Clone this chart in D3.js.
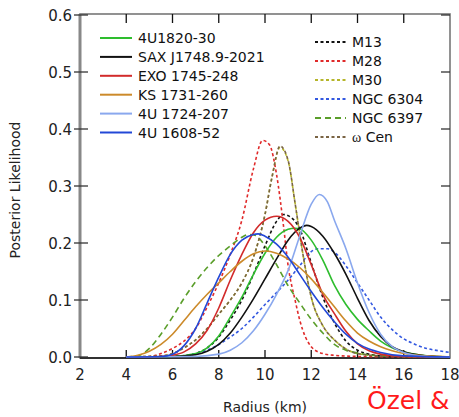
<!DOCTYPE html>
<html>
<head>
<meta charset="utf-8">
<script src="https://cdn.jsdelivr.net/npm/d3@7"></script>
<style>
  body { margin: 0; background: #fff; }
  svg { display: block; }
  text { font-family: "DejaVu Sans", sans-serif; }
</style>
</head>
<body>
<div id="chart"></div>
<script>
// radius (km), likelihood pairs
const r4U1820 = [[4,0],[6,0.001],[7,0.006],[7.5,0.016],[8,0.037],[8.5,0.07],[9,0.105],[9.5,0.145],[10,0.182],[10.5,0.21],[11,0.224],[11.3,0.226],[11.5,0.225],[12,0.205],[12.5,0.17],[13,0.126],[13.5,0.092],[14,0.066],[14.5,0.046],[15,0.028],[15.5,0.016],[16,0.009],[17,0.002],[18,0]];
const rSAX = [[4,0],[6,0.001],[7,0.004],[7.5,0.01],[8,0.022],[8.5,0.042],[9,0.07],[9.5,0.102],[10,0.137],[10.5,0.172],[11,0.205],[11.5,0.226],[11.8,0.231],[12,0.229],[12.5,0.212],[13,0.182],[13.5,0.145],[14,0.103],[14.5,0.064],[15,0.036],[15.5,0.018],[16,0.009],[17,0.002],[18,0]];
const rEXO = [[4,0],[5.5,0.001],[6,0.003],[6.5,0.009],[7,0.023],[7.5,0.047],[8,0.086],[8.5,0.135],[9,0.18],[9.5,0.218],[10,0.24],[10.5,0.247],[11,0.238],[11.5,0.21],[12,0.162],[12.5,0.11],[13,0.076],[13.5,0.045],[14,0.023],[14.5,0.011],[15,0.005],[16,0.001],[18,0]];
const rKS = [[4,0],[4.5,0.003],[5,0.01],[5.5,0.022],[6,0.04],[6.5,0.064],[7,0.088],[7.5,0.11],[8,0.13],[8.5,0.15],[9,0.168],[9.5,0.181],[10,0.186],[10.5,0.182],[11,0.172],[11.5,0.157],[12,0.137],[12.5,0.113],[13,0.088],[13.5,0.063],[14,0.042],[14.5,0.028],[15,0.018],[15.5,0.011],[16,0.006],[17,0.002],[18,0]];
const r4U1724 = [[4,0],[7,0.001],[8,0.005],[8.5,0.012],[9,0.025],[9.5,0.046],[10,0.075],[10.5,0.11],[11,0.152],[11.5,0.212],[12,0.268],[12.35,0.285],[12.7,0.272],[13,0.24],[13.5,0.19],[14,0.13],[14.5,0.078],[15,0.04],[15.5,0.018],[16,0.008],[17,0.001],[18,0]];
const r4U1608 = [[4,0],[5.5,0.001],[6,0.005],[6.5,0.02],[7,0.05],[7.5,0.095],[8,0.14],[8.5,0.18],[9,0.205],[9.5,0.215],[9.7,0.216],[10,0.212],[10.5,0.198],[11,0.175],[11.5,0.145],[12,0.115],[12.5,0.087],[13,0.062],[13.5,0.04],[14,0.024],[14.5,0.014],[15,0.008],[16,0.002],[18,0]];
const rM13 = [[4,0],[6.5,0.002],[7,0.006],[7.5,0.016],[8,0.035],[8.5,0.065],[9,0.1],[9.5,0.145],[10,0.195],[10.5,0.238],[10.8,0.25],[11,0.248],[11.5,0.225],[12,0.165],[12.5,0.105],[13,0.06],[13.5,0.028],[14,0.012],[14.5,0.005],[15,0.002],[18,0]];
const rM28 = [[4,0],[5,0.001],[5.5,0.006],[6,0.015],[6.5,0.028],[7,0.05],[7.5,0.088],[8,0.13],[8.5,0.18],[9,0.24],[9.5,0.33],[9.9,0.38],[10.2,0.372],[10.5,0.32],[10.8,0.23],[11,0.16],[11.3,0.1],[11.5,0.065],[12,0.018],[12.5,0.006],[13,0.003],[14,0.001],[18,0]];
// M30 is almost entirely hidden under the omega Cen curve
const rM30 = [[4,0],[5.5,0.002],[6,0.006],[6.5,0.016],[7,0.03],[7.5,0.05],[8,0.075],[8.5,0.1],[9,0.13],[9.5,0.175],[10,0.25],[10.3,0.315],[10.65,0.368],[11,0.344],[11.3,0.27],[11.6,0.19],[12,0.105],[12.5,0.055],[13,0.03],[13.5,0.014],[14,0.006],[15,0.002],[18,0]];
const rNGC6304 = [[4,0],[6,0.001],[7,0.006],[7.5,0.012],[8,0.022],[8.5,0.035],[9,0.05],[9.5,0.07],[10,0.092],[10.5,0.113],[11,0.135],[11.5,0.16],[12,0.185],[12.3,0.19],[12.7,0.19],[13,0.184],[13.5,0.16],[14,0.13],[14.5,0.1],[15,0.07],[15.5,0.048],[16,0.032],[16.5,0.022],[17,0.015],[17.5,0.011],[18,0.008]];
const rNGC6397 = [[4,0],[4.5,0.002],[5,0.015],[5.5,0.04],[6,0.07],[6.5,0.103],[7,0.132],[7.5,0.157],[8,0.178],[8.5,0.195],[9,0.21],[9.3,0.215],[9.6,0.213],[10,0.195],[10.5,0.162],[11,0.125],[11.5,0.095],[12,0.066],[12.5,0.042],[13,0.022],[13.5,0.012],[14,0.007],[15,0.002],[18,0]];
const rOmegaCen = [[4,0],[5.5,0.002],[6,0.006],[6.5,0.016],[7,0.03],[7.5,0.05],[8,0.075],[8.5,0.1],[9,0.13],[9.5,0.175],[10,0.25],[10.3,0.315],[10.65,0.37],[11,0.345],[11.3,0.27],[11.6,0.19],[12,0.105],[12.5,0.055],[13,0.03],[13.5,0.014],[14,0.006],[15,0.002],[18,0]];

const sourceNames = ["4U1820-30", "SAX J1748.9-2021", "EXO 1745-248", "KS 1731-260", "4U 1724-207", "4U 1608-52"];
const clusterNames = ["M13", "M28", "M30", "NGC 6304", "NGC 6397", "ω Cen"];
const xTicks = [2, 4, 6, 8, 10, 12, 14, 16, 18];
const yTicks = [0, 0.1, 0.2, 0.3, 0.4, 0.5, 0.6];

const sources = [
  {name: sourceNames[0], values: r4U1820, color: "#2ebd2e"},
  {name: sourceNames[1], values: rSAX, color: "#111111"},
  {name: sourceNames[2], values: rEXO, color: "#d22b2b"},
  {name: sourceNames[3], values: rKS, color: "#cc8a2a"},
  {name: sourceNames[4], values: r4U1724, color: "#8aa8ee"},
  {name: sourceNames[5], values: r4U1608, color: "#2348d6"}
];
const clusters = [
  {name: clusterNames[0], values: rM13, color: "#111111", dash: "3,2.5"},
  {name: clusterNames[1], values: rM28, color: "#e02a2a", dash: "3,2.5"},
  {name: clusterNames[2], values: rM30, color: "#b5b52a", dash: "3,2.5"},
  {name: clusterNames[3], values: rNGC6304, color: "#3358e0", dash: "3,2.5"},
  {name: clusterNames[4], values: rNGC6397, color: "#5a9e2a", dash: "6,4"},
  {name: clusterNames[5], values: rOmegaCen, color: "#7a6444", dash: "3,2.5"}
];
// draw order: M30 first so omega Cen sits on top of it
const clusterOrder = [2, 0, 1, 3, 4, 5];

const W = 459, H = 417;
const svg = d3.select("#chart").append("svg")
    .attr("width", W)
    .attr("height", H);

let x = d3.scaleLinear().domain([2, 18]).range([80, 450]);
let y = d3.scaleLinear().domain([0, 0.6]).range([357, 15]);

// frame
svg.append("rect")
    .attr("x", 80).attr("y", 14)
    .attr("width", 370).attr("height", 344)
    .attr("fill", "none")
    .attr("stroke", "#777")
    .attr("stroke-width", 1.6);

// left axis, heavier grey
svg.append("line")
    .attr("x1", 80).attr("x2", 80)
    .attr("y1", 14).attr("y2", 358)
    .attr("stroke", "#888").attr("stroke-width", 3);
// bottom axis
svg.append("line")
    .attr("x1", 80).attr("x2", 450)
    .attr("y1", 358).attr("y2", 358)
    .attr("stroke", "#111").attr("stroke-width", 1.5);

// x ticks (inside, top and bottom)
let xt = svg.append("g").selectAll(".xtick")
    .data(xTicks.slice(1, -1))
    .enter();
xt.append("line")
    .attr("x1", d => x(d)).attr("x2", d => x(d))
    .attr("y1", 358).attr("y2", 350)
    .attr("stroke", "#111").attr("stroke-width", 1.3);
xt.append("line")
    .attr("x1", d => x(d)).attr("x2", d => x(d))
    .attr("y1", 14).attr("y2", 23)
    .attr("stroke", "#111").attr("stroke-width", 1.3);

svg.append("g").selectAll(".xlabel")
    .data(xTicks)
    .enter()
    .append("text")
    .attr("x", d => x(d))
    .attr("y", 380)
    .attr("text-anchor", "middle")
    .attr("font-size", 15)
    .attr("fill", "#222")
    .text(d => d);

// y ticks
let yt = svg.append("g").selectAll(".ytick")
    .data(yTicks)
    .enter();
yt.append("line")
    .attr("x1", 74).attr("x2", 88)
    .attr("y1", d => y(d)).attr("y2", d => y(d))
    .attr("stroke", "#333").attr("stroke-width", 1.3);
yt.append("line")
    .attr("x1", 441).attr("x2", 450)
    .attr("y1", d => y(d)).attr("y2", d => y(d))
    .attr("stroke", "#333").attr("stroke-width", 1.3);
yt.append("text")
    .attr("x", 72)
    .attr("y", d => y(d) + 5.5)
    .attr("text-anchor", "end")
    .attr("font-size", 15)
    .attr("fill", "#222")
    .text(d => d3.format(".1f")(d));

// curves
let line = d3.line()
    .x(d => x(d[0]))
    .y(d => y(d[1]))
    .curve(d3.curveMonotoneX);

svg.append("g").selectAll(".cluster")
    .data(clusterOrder.map(i => clusters[i]))
    .enter()
    .append("path")
    .attr("class", "cluster")
    .attr("d", d => line(d.values))
    .attr("fill", "none")
    .attr("stroke", d => d.color)
    .attr("stroke-width", 1.6)
    .attr("stroke-dasharray", d => d.dash);

svg.append("g").selectAll(".source")
    .data(sources)
    .enter()
    .append("path")
    .attr("class", "source")
    .attr("d", d => line(d.values))
    .attr("fill", "none")
    .attr("stroke", d => d.color)
    .attr("stroke-width", 1.6);

// legend left (solid)
let legL = svg.append("g").selectAll(".legL")
    .data(sources)
    .enter()
    .append("g")
    .attr("transform", (d, i) => `translate(100, ${38 + i * 18.9})`);
legL.append("line")
    .attr("x1", 0).attr("x2", 32)
    .attr("stroke", d => d.color).attr("stroke-width", 2);
legL.append("text")
    .attr("x", 38).attr("y", 5)
    .attr("font-size", 14)
    .attr("fill", "#111")
    .text(d => d.name);

// legend right (dashed)
let legR = svg.append("g").selectAll(".legR")
    .data(clusters)
    .enter()
    .append("g")
    .attr("transform", (d, i) => `translate(315, ${42 + i * 19})`);
legR.append("line")
    .attr("x1", 0).attr("x2", 31)
    .attr("stroke", d => d.color).attr("stroke-width", 1.8)
    .attr("stroke-dasharray", d => d.dash);
legR.append("text")
    .attr("x", 37).attr("y", 5)
    .attr("font-size", 14)
    .attr("fill", "#111")
    .each(function(d) {
        let t = d3.select(this);
        if (d.name.startsWith("ω")) {
            t.append("tspan").attr("font-family", "Liberation Serif, serif").text("ω");
            t.append("tspan").text(d.name.slice(1));
        } else {
            t.text(d.name);
        }
    });

// axis titles
svg.append("text")
    .attr("transform", "rotate(-90)")
    .attr("x", -190).attr("y", 20)
    .attr("text-anchor", "middle")
    .attr("font-size", 14)
    .attr("fill", "#222")
    .text("Posterior Likelihood");

svg.append("text")
    .attr("x", 265).attr("y", 412)
    .attr("text-anchor", "middle")
    .attr("font-size", 14)
    .attr("fill", "#222")
    .text("Radius (km)");

svg.append("text")
    .attr("x", 367).attr("y", 409)
    .attr("font-family", "Lato, sans-serif")
    .attr("font-size", 25)
    .attr("fill", "#ff1a1a")
    .text("Özel &");
</script>
</body>
</html>
